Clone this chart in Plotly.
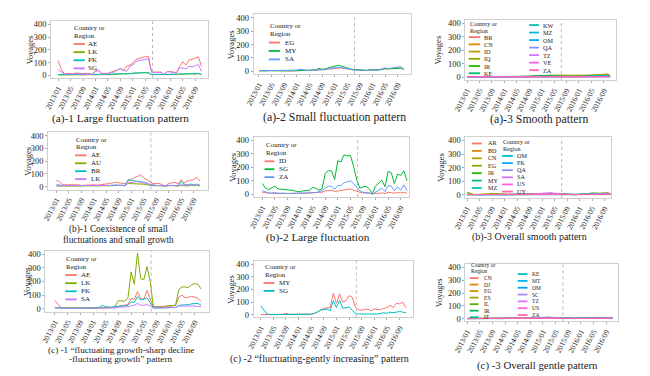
import math
import plotly.graph_objects as go

# ---------------- data ----------------
months = [f"{2013 + k // 12}/{k % 12 + 1:02d}" for k in range(47)]
tick_labels = months[::4]
break_month_index = 30.3  # dashed reference line (mid 2015)

a1_names = ["AE", "LK", "PK", "SG"]
a1_AE = [115,50,12,15,15,12,18,15,12,15, 10,8,35,40,15,12,15,25,30,45, 50,35,70,80,95,125,135,140,145,150, 25, 25,25,25,5,30,30,25,20,70,105,80,120,125,135,145,70]
a1_LK = [2,2,2,2,3,2,3,2,2,3, 2,2,5,5,3,3,3,5,5,8, 10,8,8,10,12,15,20,22,25,22, 5, 5,5,5,2,5,5,5,5,8,10,8,10,10,8,12,5]
a1_PK = [5,5,3,5,5,3,5,5,3,5, 3,3,8,8,5,5,5,8,10,12, 15,12,10,15,15,18,20,22,20,15, 5, 5,5,5,3,8,8,8,8,10,10,10,10,10,12,15,8]
a1_SG = [45,25,8,10,12,8,12,10,8,10, 8,5,30,35,10,8,12,20,25,40, 55,40,30,70,80,110,115,120,125,130, 20, 20,20,20,5,28,25,20,15,60,55,50,70,65,75,85,30]

a2_names = ["EG", "MY", "SA"]
a2_EG = [5,3,3,5,3,3,5,3,3,3, 3,3,5,8,5,5,5,8,8,10, 12,12,15,18,22,22,25,20,18,15, 10,10,8,8,5,8,10,8,10,15, 15,20,18,20,22,25,15]
a2_MY = [3,2,2,3,5,3,5,3,3,5, 3,3,3,5,5,5,8,10,10,22, 15,18,25,30,40,45,40,35,25,15, 12,12,10,10,5,10,12,10,8,15, 20,18,20,22,25,22,15]
a2_SA = [5,5,3,5,3,3,8,5,3,5, 5,3,8,15,12,8,5,8,10,12, 15,12,20,25,30,30,28,25,20,15, 8,8,5,5,3,8,8,8,10,15, 25,20,25,28,30,35,12]

a3_names = ["BR", "CN", "ID", "IQ", "IR", "KE", "KW", "MZ", "OM", "QA", "TZ", "VE", "ZA"]
a3_BR = [2,2,1,2,2,1,2,2,1,2, 1,2,2,1,2,2,3,2,3,3, 4,3,3,4,5,4,4,5,4,3, 3,3,2,2,2,3,3,3,4,4, 5,4,4,5,5,4,3]
a3_CN = [3,2,2,3,2,2,3,2,2,3, 2,2,3,3,2,3,3,4,4,5, 6,6,7,8,8,7,8,9,8,7, 6,6,5,5,4,5,6,6,7,8, 9,8,9,10,11,10,6]
a3_ID = [2,2,2,2,3,2,2,2,2,2, 2,2,3,3,3,3,4,4,5,6, 7,8,9,10,10,11,12,14,13,14, 12,11,10,9,8,9,10,11,12,13, 15,14,16,18,22,25,15]
a3_IQ = [1,1,1,1,1,1,1,1,1,1, 1,1,2,2,2,2,3,3,4,5, 6,8,10,12,12,14,15,16,15,15, 14,13,12,12,10,10,11,12,13,14, 15,14,15,16,18,20,12]
a3_IR = [2,1,1,2,1,1,2,1,1,2, 1,1,2,2,1,2,2,3,3,4, 5,6,8,10,12,10,9,8,7,6, 5,5,4,4,3,4,5,6,6,7, 8,8,9,10,11,12,8]
a3_KE = [3,3,2,3,3,2,3,3,2,3, 3,2,3,3,3,3,4,4,5,6, 7,9,12,15,14,12,10,9,8,8, 6,6,5,5,4,5,6,7,8,8, 9,9,10,11,12,12,8]
a3_KW = [1,1,1,1,1,1,1,1,1,1, 1,1,1,1,1,1,2,2,2,2, 3,3,3,4,4,4,5,5,5,4, 4,4,3,3,3,3,4,4,4,5, 5,5,6,6,6,6,4]
a3_MZ = [2,2,2,2,2,2,2,2,2,2, 2,2,2,2,2,2,2,3,3,3, 3,4,4,4,5,5,5,6,6,5, 5,4,4,4,3,4,4,5,5,6, 6,7,7,8,8,9,6]
a3_OM = [1,2,1,1,2,1,1,2,1,1, 2,1,1,2,1,2,2,2,3,3, 4,4,5,6,6,7,7,8,7,6, 5,5,4,4,3,4,5,5,6,7, 8,8,9,10,10,11,7]
a3_QA = [2,1,2,2,1,2,2,1,2,2, 1,2,2,1,2,2,2,3,3,3, 4,4,5,5,6,6,6,7,6,5, 5,4,4,3,3,4,4,5,5,6, 6,6,7,7,8,8,5]
a3_TZ = [1,1,1,1,1,1,1,1,1,1, 1,1,1,1,1,1,1,2,2,2, 2,3,3,3,3,4,4,4,4,3, 3,3,2,2,2,3,3,3,3,4, 4,4,5,5,5,5,3]
a3_VE = [3,3,3,3,3,3,3,3,3,3, 3,3,3,3,3,3,3,3,3,3, 3,3,3,4,4,4,4,4,4,4, 3,3,3,3,3,3,3,3,3,3, 3,3,3,3,3,3,3]
a3_ZA = [4,4,4,4,4,4,4,4,4,4, 4,4,4,4,4,4,4,4,5,5, 5,5,5,5,6,6,6,6,6,6, 5,5,5,5,4,5,5,5,5,5, 5,5,6,6,6,6,5]

b1_names = ["AE", "AU", "BR", "LK"]
b1_AE = [50,40,15,15,20,20,15,15,10,12, 10,12,15,12,15,15,20,25,30,35, 30,25,25,45,60,70,80,95,70,55, 45,25,25,25,15,5,25,30,35,20, 55,30,45,50,55,75,45]
b1_AU = [5,5,3,3,5,3,5,3,3,5, 3,5,5,5,3,5,5,8,8,10, 10,8,10,25,25,25,25,25,20,15, 10,8,8,8,5,3,8,10,8,5, 10,8,5,10,8,12,5]
b1_BR = [15,12,8,8,10,8,10,8,8,10, 8,10,10,8,10,10,12,12,15,15, 12,10,5,55,50,45,45,40,35,30, 15,10,10,10,8,5,10,12,10,8, 40,20,15,20,15,20,10]
b1_LK = [8,8,5,5,8,5,5,5,5,8, 5,8,8,10,8,8,10,10,12,15, 12,10,10,30,35,35,40,35,30,25, 15,10,10,8,8,5,10,10,10,8, 15,12,12,15,12,20,10]

b2_names = ["ID", "SG", "ZA"]
b2_ID = [15,10,8,5,5,5,5,5,3,3, 3,3,3,5,5,8,10,10,12,15, 25,30,30,20,25,25,30,35,40,30, 20,15,10,10,8,3,5,8,10,5, 15,12,8,12,10,15,8]
b2_SG = [80,45,35,45,60,40,38,35,32,30, 28,20,18,25,25,30,50,45,30,40, 155,175,175,110,250,240,295,285,290,210, 110,45,55,60,40,5,60,80,105,55, 170,160,80,150,140,175,100]
b2_ZA = [25,15,10,10,12,8,10,8,5,5, 5,5,5,8,10,15,15,12,20,25, 45,60,60,35,65,65,85,95,100,80, 55,25,15,12,10,0,15,30,45,20, 65,60,25,55,30,70,25]

b3_names = ["AR", "BD", "CN", "EG", "IR", "MY", "MZ", "OM", "PK", "QA", "SA", "US", "UY"]
b3_AR = [2,2,1,2,2,1,2,2,1,2, 1,2,2,1,2,2,2,2,2,3, 3,3,3,4,4,4,5,4,4,3, 3,2,2,2,2,2,2,3,3,3, 4,4,4,5,5,4,3]
b3_BD = [5,3,2,2,2,3,3,4,5,4, 3,2,2,2,2,2,2,3,3,3, 4,4,5,6,6,7,8,7,6,5, 4,3,3,2,2,2,3,3,4,5, 6,7,8,10,12,12,6]
b3_CN = [18,8,3,3,3,4,5,8,12,10, 6,3,3,3,3,3,3,4,4,5, 6,6,7,8,10,10,12,11,10,8, 6,4,3,3,2,2,3,4,5,6, 8,10,12,14,15,14,8]
b3_EG = [20,10,4,3,3,3,4,6,10,8, 5,3,2,2,2,2,3,3,4,4, 5,6,6,8,9,10,11,10,9,7, 5,4,3,3,2,2,3,4,5,7, 9,11,13,15,16,15,9]
b3_IR = [4,3,2,2,2,2,3,3,4,3, 3,2,2,2,2,2,3,3,4,4, 5,6,7,8,9,10,11,10,9,8, 6,5,4,3,3,3,4,5,7,10, 15,12,10,11,12,11,7]
b3_MY = [3,2,2,2,2,2,2,3,3,3, 2,2,2,2,2,2,3,3,3,4, 4,5,6,7,8,9,10,9,8,7, 5,4,3,3,2,3,4,5,6,9, 13,11,9,10,11,10,6]
b3_MZ = [2,2,2,2,2,2,2,2,2,2, 2,2,2,2,2,2,2,2,2,3, 3,3,3,4,4,4,5,5,4,4, 3,3,2,2,2,2,2,3,3,3, 4,4,4,5,5,5,3]
b3_OM = [3,2,2,2,2,2,2,2,3,2, 2,2,2,2,2,2,2,3,3,3, 4,4,5,5,6,6,7,7,6,5, 4,3,3,3,2,2,3,3,4,5, 6,6,7,7,8,7,4]
b3_PK = [2,2,1,1,1,1,1,2,2,2, 1,1,1,1,1,2,2,2,2,3, 3,4,4,5,5,6,6,6,5,4, 3,3,2,2,2,2,2,3,3,4, 5,5,6,6,6,6,3]
b3_QA = [2,2,2,2,2,2,2,2,2,2, 2,2,2,2,2,2,2,2,3,3, 3,4,4,4,5,5,6,6,5,4, 4,3,3,2,2,2,3,3,3,4, 4,5,5,5,6,5,3]
b3_SA = [3,2,2,2,2,2,2,2,3,3, 2,2,2,2,2,2,3,3,4,5, 6,7,9,11,13,15,18,16,12,9, 6,4,3,3,2,2,3,4,5,6, 7,7,8,8,9,8,5]
b3_US = [2,2,2,2,2,2,2,2,2,2, 2,2,2,2,2,2,2,3,3,4, 5,6,8,10,12,14,16,14,10,7, 5,4,3,3,2,2,3,3,4,5, 6,6,7,7,8,7,4]
b3_UY = [3,3,3,3,3,3,3,3,3,3, 3,3,3,3,3,3,3,3,3,3, 3,3,4,4,4,4,4,4,4,4, 3,3,3,3,3,3,3,3,3,3, 3,3,4,4,4,4,3]

c1_names = ["AE", "LK", "PK", "SA"]
c1_AE = [60,30,5,3,5,3,5,3,3,8, 5,3,3,5,5,5,8,8,10,15, 20,25,25,30,75,70,125,75,70,135, 70, 15,15,15,15,20,20,20,25, 85,100,80,85,90,85,75,55]
c1_LK = [5,5,3,3,3,3,3,3,3,3, 3,3,3,5,5,5,8,8,10,20, 60,60,55,80,270,180,410,220,215,310, 200, 15,15,15,10,20,20,20,25, 140,160,160,155,175,185,180,145]
c1_PK = [10,8,5,3,3,3,3,3,5,5, 3,3,3,5,10,25,15,10,10,15, 20,20,20,25,50,45,90,65,70,80, 45, 5,5,5,5,10,10,10,10, 25,25,25,30,35,40,40,25]
c1_SA = [8,5,3,3,3,3,3,3,5,5, 3,3,3,3,5,5,5,8,5,5, 10,10,10,15,20,25,40,25,25,30, 20, 5,5,5,5,5,5,5,8, 20,20,20,25,20,20,18,15]

c2_names = ["MY", "SG"]
c2_MY = [0,0,5,3,5,3,5,3,10,3, 3,3,5,3,3,5,5,10,20,40, 50,55,55,170,90,165,100,110,150,140, 60,40,35,40,45,30,45,40,40,50, 55,75,55,90,85,100,55]
c2_SG = [70,40,5,0,0,0,0,0,0,0, 0,0,0,0,0,0,3,10,25,35, 40,45,30,110,55,115,50,55,60,35, 10,5,5,5,5,0,5,5,10,15, 10,20,15,20,25,20,15]

c3_names = ["CN", "DJ", "EG", "ES", "IL", "IR", "IT", "KE", "MT", "OM", "SC", "TZ", "US", "ZA"]
c3_CN = [1,1,1,1,1,1,1,1,1,1, 1,1,1,1,1,1,1,1,2,2, 2,3,4,5,6,7,8,7,6,4, 2,1,1,1,1,1,1,2,2,3, 4,5,6,7,8,7,4]
c3_DJ = [0,0,0,0,0,0,0,0,0,0, 0,0,0,0,0,0,0,1,1,1, 2,2,3,3,4,4,5,5,4,3, 2,1,0,0,0,0,1,1,2,2, 3,3,4,4,5,5,3]
c3_EG = [1,1,0,1,1,0,1,1,0,1, 1,0,1,1,1,1,1,1,2,2, 3,3,4,5,6,6,7,6,5,4, 2,1,1,1,0,1,1,2,2,3, 4,4,5,6,6,6,3]
c3_ES = [0,0,0,0,0,0,0,0,0,0, 0,0,0,0,0,0,1,1,1,2, 2,3,3,4,5,5,6,5,4,3, 2,1,0,0,0,0,1,1,1,2, 3,3,4,4,5,4,2]
c3_IL = [1,1,1,1,1,1,1,1,1,1, 1,1,1,1,1,1,1,1,1,2, 2,2,3,4,5,6,7,6,5,3, 2,1,1,1,1,1,1,1,2,2, 3,4,4,5,5,5,3]
c3_IR = [1,0,0,1,0,0,1,0,0,1, 0,0,1,1,0,1,1,2,2,3, 4,5,7,9,10,11,12,10,8,5, 3,1,1,1,0,1,2,3,4,5, 6,7,8,8,9,8,5]
c3_IT = [0,0,0,0,0,0,0,0,0,0, 0,0,0,0,0,0,0,0,1,1, 2,2,3,3,4,4,5,4,4,3, 2,1,0,0,0,0,0,1,1,2, 2,3,3,4,4,4,2]
c3_KE = [1,1,1,1,1,1,1,1,1,1, 1,1,1,1,1,1,1,2,2,2, 3,3,4,4,5,6,6,6,5,4, 3,2,1,1,1,1,2,2,3,3, 4,5,5,6,6,6,4]
c3_MT = [0,0,0,0,0,0,0,0,0,0, 0,0,0,0,0,0,0,0,1,1, 1,2,2,3,3,4,4,4,3,2, 1,1,0,0,0,0,1,1,1,2, 2,2,3,3,3,3,2]
c3_OM = [1,1,1,1,1,1,1,1,1,1, 1,1,1,1,1,1,1,1,2,2, 2,3,3,4,4,5,5,5,4,3, 2,2,1,1,1,1,2,2,2,3, 3,4,4,5,5,5,3]
c3_SC = [0,0,0,0,0,0,0,0,0,0, 0,0,0,0,0,0,0,1,1,1, 2,2,3,3,3,4,4,4,3,2, 1,1,0,0,0,0,1,1,1,1, 2,2,3,3,3,3,2]
c3_TZ = [1,1,0,1,1,0,1,1,0,1, 1,0,1,1,0,1,1,1,2,2, 3,3,4,5,6,7,8,7,6,4, 2,1,1,0,0,1,1,2,2,3, 3,4,5,5,6,5,3]
c3_US = [0,0,0,0,0,0,0,0,0,0, 0,0,0,0,0,0,0,0,1,1, 2,2,3,4,5,6,7,6,5,3, 2,1,0,0,0,0,1,1,2,2, 3,3,4,4,5,4,2]
c3_ZA = [1,1,1,1,1,1,1,1,1,1, 1,1,1,1,1,1,1,1,1,1, 2,2,2,2,3,3,3,3,3,2, 2,1,1,1,1,1,1,1,2,2, 2,2,3,3,3,3,2]

captions = {
    "a1": ["(a)-1 Large fluctuation pattern"],
    "a2": ["(a)-2 Small fluctuation pattern"],
    "a3": ["(a)-3 Smooth pattern"],
    "b1": ["(b)-1 Coexistence of small", "fluctuations and small growth"],
    "b2": ["(b)-2 Large fluctuation"],
    "b3": ["(b)-3 Overall smooth pattern"],
    "c1": ["(c) -1 \u201cfluctuating growth-sharp decline", "-fluctuating growth\u201d pattern"],
    "c2": ["(c) -2 \u201cfluctuating-gently increasing\u201d pattern"],
    "c3": ["(c) -3 Overall gentle pattern"],
}
y_title = "Voyages"
legend_title = ["Country or", "Region"]
y_ticks = [0, 100, 200, 300, 400]

# ---------------- style helpers ----------------
W, H = 650, 376
FONT = "Liberation Serif"
TXT = "#222222"


def hue_pal(n, c=100.0, l=65.0):
    out = []
    Xn, Yn, Zn = 95.047, 100.0, 108.883
    un = 4 * Xn / (Xn + 15 * Yn + 3 * Zn)
    vn = 9 * Yn / (Xn + 15 * Yn + 3 * Zn)
    for k in range(n):
        h = 15 + 360.0 * k / n
        hr = math.radians(h)
        U, V = c * math.cos(hr), c * math.sin(hr)
        Y = Yn * (((l + 16) / 116) ** 3 if l > 8 else l / 903.3)
        u = U / (13 * l) + un
        v = V / (13 * l) + vn
        X = Y * 9 * u / (4 * v)
        Z = Y * (12 - 3 * u - 20 * v) / (4 * v)
        x, y, z = X / 100, Y / 100, Z / 100
        rgb = [3.240479 * x - 1.537150 * y - 0.498535 * z,
               -0.969256 * x + 1.875992 * y + 0.041556 * z,
               0.055648 * x - 0.204043 * y + 1.057311 * z]
        res = []
        for ch in rgb:
            ch = 1.055 * ch ** (1 / 2.4) - 0.055 if ch > 0.0031308 else 12.92 * ch
            res.append(int(round(min(1, max(0, ch)) * 255)))
        out.append("#%02X%02X%02X" % tuple(res))
    return out


def px(x):
    return x / W


def py(y):
    return 1 - y / H


def rng(start, step, n):
    return [start + step * k for k in range(n)]


panels = [
    dict(key="a1", names=a1_names, vals=[a1_AE, a1_LK, a1_PK, a1_SG],
         frame=(39, 199.3), y400=22.7, y0=74, xr=(-2.2, 48.2), ytx=17, cap=(110, [118], 11.3),
         leg=[dict(title=(26, 34), ys=rng(42.5, 8.2, 4), line=(61.7, 73.3), tx=76, idx=(0, 4))], fs=7),
    dict(key="a2", names=a2_names, vals=[a2_EG, a2_MY, a2_SA],
         frame=(245.7, 405.7), y400=16, y0=70, xr=(-1.65, 48.1), ytx=223.3, cap=(328, [116], 11.8),
         leg=[dict(title=(24, 32), ys=rng(41, 8.5, 3), line=(261, 272.3), tx=276.7, idx=(0, 3))], fs=7),
    dict(key="a3", names=a3_names, vals=[a3_BR, a3_CN, a3_ID, a3_IQ, a3_IR, a3_KE, a3_KW, a3_MZ, a3_OM, a3_QA, a3_TZ, a3_VE, a3_ZA],
         frame=(461.7, 615), y400=21.7, y0=76, xr=(-0.5, 47.8), ytx=434, cap=(537, [118.5], 11.8),
         leg=[dict(title=(21.5, 28.5), ys=rng(35.5, 7.3, 6), line=(465, 476.7), tx=480, idx=(0, 6)),
              dict(title=None, ys=rng(23.3, 7.6, 7), line=(526.7, 536.7), tx=540, idx=(6, 13))], fs=6.2),
    dict(key="b1", names=b1_names, vals=[b1_AE, b1_AU, b1_BR, b1_LK],
         frame=(36, 199), y400=135, y0=186.7, xr=(-2.6, 48.6), ytx=15, cap=(108, [230, 241], 9.3),
         leg=[dict(title=(139, 147), ys=rng(155, 8, 4), line=(63.3, 75), tx=78.3, idx=(0, 4))], fs=7),
    dict(key="b2", names=b2_names, vals=[b2_ID, b2_SG, b2_ZA],
         frame=(245.7, 404.3), y400=140, y0=194.3, xr=(-2.7, 46.7), ytx=225, cap=(311, [238], 11.3),
         leg=[dict(title=(144.5, 152.5), ys=rng(161, 8, 3), line=(256.7, 266.7), tx=270, idx=(0, 3))], fs=7),
    dict(key="b3", names=b3_names, vals=[b3_AR, b3_BD, b3_CN, b3_EG, b3_IR, b3_MY, b3_MZ, b3_OM, b3_PK, b3_QA, b3_SA, b3_US, b3_UY],
         frame=(461.7, 610), y400=140, y0=195, xr=(-0.5, 46), ytx=436, cap=(527, [238], 10),
         leg=[dict(title=None, ys=rng(143, 7.5, 7), line=(468.3, 478.3), tx=483.3, idx=(0, 7)),
              dict(title=(141, 148.3), ys=rng(155.6, 7.2, 6), line=(499, 510), tx=513.3, idx=(7, 13))], fs=6.1),
    dict(key="c1", names=c1_names, vals=[c1_AE, c1_LK, c1_PK, c1_SA],
         frame=(33, 200), y400=255, y0=310, xr=(-3, 48.5), ytx=15, cap=(110, [352, 361], 9.2),
         leg=[dict(title=(259.5, 267.5), ys=rng(276, 8.2, 4), line=(53.3, 65), tx=68.3, idx=(0, 4))], fs=7),
    dict(key="c2", names=c2_names, vals=[c2_MY, c2_SG],
         frame=(245.7, 408.3), y400=265, y0=316, xr=(-2.2, 48.3), ytx=223, cap=(313, [361], 10),
         leg=[dict(title=(267.5, 275.5), ys=rng(284, 8, 2), line=(255.7, 266.7), tx=270, idx=(0, 2))], fs=7),
    dict(key="c3", names=c3_names, vals=[c3_CN, c3_DJ, c3_EG, c3_ES, c3_IL, c3_IR, c3_IT, c3_KE, c3_MT, c3_OM, c3_SC, c3_TZ, c3_US, c3_ZA],
         frame=(461.7, 617.3), y400=268.3, y0=320, xr=(-0.5, 47.7), ytx=435, cap=(535.5, [367], 10.8),
         leg=[dict(title=(265.5, 272), ys=rng(279, 6.6, 7), line=(466, 475), tx=480, idx=(0, 7)),
              dict(title=None, ys=rng(275, 6.9, 7), line=(515, 525), tx=528.3, idx=(7, 14))], fs=5.6),
]

Y_LO, Y_HI = -22, 425

fig = go.Figure()
shapes, annotations = [], []
layout_axes = {}

for n, p in enumerate(panels, start=1):
    xa = "x" if n == 1 else f"x{n}"
    ya = "y" if n == 1 else f"y{n}"
    xkey = "xaxis" if n == 1 else f"xaxis{n}"
    ykey = "yaxis" if n == 1 else f"yaxis{n}"
    colors = hue_pal(len(p["names"]))
    for name, vals, col in zip(p["names"], p["vals"], colors):
        fig.add_trace(go.Scatter(x=months, y=vals, mode="lines", name=name,
                                 line=dict(color=col, width=1), xaxis=xa, yaxis=ya,
                                 showlegend=False, hoverinfo="skip"))
    s = (p["y0"] - p["y400"]) / 400.0
    top = p["y400"] - (Y_HI - 400) * s
    bot = p["y0"] - Y_LO * s
    fl, fr = p["frame"]
    layout_axes[xkey] = dict(domain=[px(fl), px(fr)], anchor=ya, type="category",
                             categoryorder="array", categoryarray=months,
                             range=list(p["xr"]), tickmode="array", tickvals=tick_labels,
                             ticktext=tick_labels, tickangle=-62,
                             tickfont=dict(family=FONT, size=7.6, color=TXT),
                             showline=True, mirror=True, linecolor="#cfcfcf", linewidth=1,
                             ticks="outside", ticklen=2, tickcolor="#aaaaaa",
                             showgrid=False, zeroline=False, fixedrange=True)
    layout_axes[ykey] = dict(domain=[py(bot), py(top)], anchor=xa, range=[Y_LO, Y_HI],
                             tickmode="array", tickvals=y_ticks,
                             tickfont=dict(family=FONT, size=8.5, color=TXT),
                             showline=True, mirror=True, linecolor="#cfcfcf", linewidth=1,
                             ticks="outside", ticklen=2, tickcolor="#aaaaaa",
                             showgrid=False, zeroline=False, fixedrange=True)
    shapes.append(dict(type="line", xref=xa, yref=f"{ya} domain", x0=break_month_index,
                       x1=break_month_index, y0=0, y1=1,
                       line=dict(color="#a8a8a8", width=0.8, dash="dot")))
    annotations.append(dict(text=y_title, xref="paper", yref="paper", x=px(p["ytx"]),
                            y=py((top + bot) / 2), xanchor="center", yanchor="middle",
                            textangle=-90, showarrow=False,
                            font=dict(family=FONT, size=8.5, color=TXT)))
    cx, cys, cfs = p["cap"]
    for line_txt, cy in zip(captions[p["key"]], cys):
        annotations.append(dict(text=line_txt, xref="paper", yref="paper", x=px(cx), y=py(cy),
                                xanchor="center", yanchor="middle", showarrow=False, borderpad=0,
                                font=dict(family=FONT, size=cfs, color=TXT)))
    fs = p["fs"]
    for lg in p["leg"]:
        if lg["title"] is not None:
            for t, ty in zip(legend_title, lg["title"]):
                annotations.append(dict(text=t, xref="paper", yref="paper", x=px(lg["line"][0]),
                                        y=py(ty), xanchor="left", yanchor="middle",
                                        showarrow=False, borderpad=0,
                                        font=dict(family=FONT, size=fs, color=TXT)))
        i0, i1 = lg["idx"]
        for k, ey in zip(range(i0, i1), lg["ys"]):
            shapes.append(dict(type="line", xref="paper", yref="paper",
                               x0=px(lg["line"][0]), x1=px(lg["line"][1]), y0=py(ey), y1=py(ey),
                               line=dict(color=colors[k], width=1.8)))
            annotations.append(dict(text=p["names"][k], xref="paper", yref="paper",
                                    x=px(lg["tx"]), y=py(ey), xanchor="left", yanchor="middle",
                                    showarrow=False, borderpad=0,
                                    font=dict(family=FONT, size=fs, color=TXT)))

fig.update_layout(width=W, height=H, autosize=False, margin=dict(l=0, r=0, t=0, b=0),
                  paper_bgcolor="white", plot_bgcolor="white", showlegend=False,
                  font=dict(family=FONT, color=TXT), shapes=shapes, annotations=annotations,
                  **layout_axes)

fig.write_html("out.html", config={"displayModeBar": False, "staticPlot": True},
               post_script="document.body.style.margin='0';")
